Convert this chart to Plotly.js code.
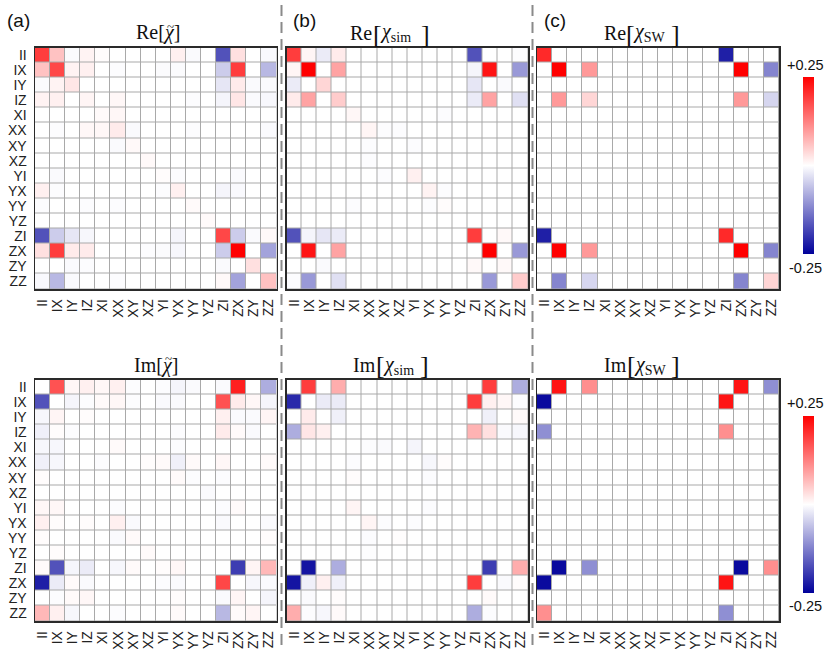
<!DOCTYPE html>
<html>
<head>
<meta charset="utf-8">
<script src="https://cdn.plot.ly/plotly-3.0.1.min.js"></script>
<style>html,body{margin:0;padding:0;background:#fff;}#chart{width:831px;height:649px;}</style>
</head>
<body>
<div id="chart"></div>
<script>
var labels = ["II","IX","IY","IZ","XI","XX","XY","XZ","YI","YX","YY","YZ","ZI","ZX","ZY","ZZ"];

var reExp = [
 [0.19,0.06,-0.004,0.012,0.003,0,0,0,0,0.015,-0.005,0,-0.17,0.03,0,-0.006],
 [0.06,0.18,0.012,0.015,0,-0.003,0,0,-0.004,-0.004,0,0,-0.05,0.19,0,-0.07],
 [-0.004,0.012,0.025,0,0,0,0,0,0,0,0,0,-0.025,0.02,-0.005,-0.005],
 [0.012,0.015,0,0.01,0,0.008,0,0,0,0,-0.003,0,-0.01,0.025,-0.005,-0.008],
 [0,0,0,0,0.005,0.008,0,0,0,0,0,0,0,0,0,0],
 [0,-0.003,0,0.008,0.008,0.02,-0.005,0,0,0,-0.003,0,0,0,0,-0.005],
 [0,0,0,0,0,-0.005,0.006,0,0,0,0,0,0,0,0,0],
 [0,0,0,0,0,0,0,0.006,0,0,0,0,0,0,0,0],
 [0,-0.005,0,0,0,0,0,0,0.003,-0.003,0,0,0,-0.005,0,0],
 [0.015,-0.003,0,0,0,0,0,0,-0.003,0.015,0,0,-0.01,-0.006,0,0],
 [-0.003,0,0,-0.003,0,-0.003,0,0,0,0,0.005,0,0,0,0,0],
 [0,0,0,0,0,0,0,0,0,0,0,0.005,0,0,0,0],
 [-0.17,-0.05,-0.025,-0.008,0,0,0,0,0,-0.01,0,0,0.18,-0.05,-0.005,0.006],
 [0.03,0.19,0.02,0.02,0,0,0,-0.003,-0.004,-0.008,0,0,-0.05,0.25,0,-0.09],
 [0,0,-0.005,-0.003,0,0,0,0,0,0,0,0,-0.005,0,0.03,0],
 [-0.006,-0.07,-0.005,0,0,-0.003,0,0,0,0,0,0,0.006,-0.09,0,0.06]
];

var reSim = [
 [0.19,0.01,-0.02,0.02,0,0,0,0,0,0,0,0,-0.17,0,0,-0.003],
 [0.01,0.25,0,0.09,0,0,0,0,0,0,0,0,-0.01,0.23,0,-0.1],
 [-0.02,0,0.04,0,0,0,0,0,0,0,0,0,-0.025,0,-0.005,0],
 [0.02,0.09,0,0.05,0,0,0,0,0,0,0,0,-0.02,0.09,0,-0.03],
 [0,0,0,0,0.008,0,0,0,0,0,-0.003,0,0,0,0,0],
 [0,0,0,0,0,0.01,-0.003,-0.003,0,0,0,0,0,0,0,0],
 [0,0,0,0,0,-0.003,0,0,-0.003,0,0,0,0,0,0,0],
 [0,0,0,0,0,-0.003,0,0,0,0,0,0,0,0,0,0],
 [0,0,0,0,0,0,-0.003,0,0.015,0,0,0,0,0,0,0],
 [0,0,0,0,0,0,0,0,0,0.012,-0.003,0,0,0,0,0],
 [0,0,0,0,-0.003,0,0,0,0,-0.003,0.003,0,0,0,0,0],
 [0,0,0,0,0,0,0,0,0,0,0,0,0,0,0,0],
 [-0.17,-0.01,-0.025,-0.02,0,0,0,0,0,0,0,0,0.19,0,0.006,0],
 [0,0.23,0,0.09,0,0,0,0,0,0,0,0,0,0.25,0,-0.1],
 [0,0,-0.005,0,0,0,0,0,0,0,0,0,0.006,0,0.006,0],
 [-0.003,-0.1,0,-0.03,0,0,0,0,0,0,0,0,0,-0.1,0,0.05]
];

var reSW = [
 [0.21,0,0,0,0,0,0,0,0,0,0,0,-0.22,0,0,0],
 [0,0.25,0,0.1,0,0,0,0,0,0,0,0,0,0.25,0,-0.12],
 [0,0,0,0,0,0,0,0,0,0,0,0,0,0,0,0],
 [0,0.1,0,0.04,0,0,0,0,0,0,0,0,0,0.1,0,-0.04],
 [0,0,0,0,0,0,0,0,0,0,0,0,0,0,0,0],
 [0,0,0,0,0,0,0,0,0,0,0,0,0,0,0,0],
 [0,0,0,0,0,0,0,0,0,0,0,0,0,0,0,0],
 [0,0,0,0,0,0,0,0,0,0,0,0,0,0,0,0],
 [0,0,0,0,0,0,0,0,0,0,0,0,0,0,0,0],
 [0,0,0,0,0,0,0,0,0,0,0,0,0,0,0,0],
 [0,0,0,0,0,0,0,0,0,0,0,0,0,0,0,0],
 [0,0,0,0,0,0,0,0,0,0,0,0,0,0,0,0],
 [-0.22,0,0,0,0,0,0,0,0,0,0,0,0.21,0,0,0],
 [0,0.25,0,0.1,0,0,0,0,0,0,0,0,0,0.25,0,-0.12],
 [0,0,0,0,0,0,0,0,0,0,0,0,0,0,0,0],
 [0,-0.12,0,-0.04,0,0,0,0,0,0,0,0,0,-0.12,0,0.04]
];

var imExp = [
 [0,0.17,0.008,0.015,0.008,0.015,-0.003,0,-0.003,-0.01,-0.005,0,-0.005,0.22,0,-0.08],
 [-0.17,0,-0.01,-0.003,0.005,0.008,-0.003,0,-0.005,-0.005,0,0,0.17,0.02,0.008,-0.01],
 [-0.008,0.01,0,0.003,0,0,0,0,0,0,0,0,0.015,-0.005,-0.005,0.01],
 [-0.015,0.003,-0.003,0,0,0,0,0,0,-0.003,0,0,0.02,0.005,-0.005,0],
 [-0.008,-0.008,0,0,0,0.005,0,0,0,-0.003,0,0,0,0,0,0],
 [-0.015,-0.008,0,0,-0.003,0,0,0.003,0.005,-0.015,0.005,0,0.008,0,0,0.005],
 [0.003,0,0,0,0,0,0,0,0,0.005,-0.003,0,-0.003,0,0,0],
 [0,0,0,0,0,0,0,0,0,0,0,-0.005,0,0,0,0],
 [0.008,0.008,0,0,0,-0.003,0,0,0,0,0,0,-0.003,0.005,0,0],
 [0.015,0.003,0,0.003,0,0.015,-0.005,0,0,0,0,0,-0.005,0,0,-0.005],
 [0.003,0,0,0,0,-0.005,0.005,0,0,0,0,0,0,0,0,0.003],
 [0,0.003,0,0,0,0,0,0.005,0,0,0,0,0,0,0,0],
 [0.005,-0.17,-0.01,-0.02,0,-0.008,0.005,0,0.003,0.008,0,0,0,-0.19,0.01,0.07],
 [-0.22,-0.02,0.005,-0.005,0,0,0,0,-0.003,-0.005,0,0,0.18,0,-0.008,-0.005],
 [0,-0.003,0.005,0.008,0,0,0,0,0,0.003,0,0,-0.005,0.01,0,-0.01],
 [0.07,0.015,-0.008,0,0,-0.003,0,0,0,0.005,0,0,-0.07,0.005,0.01,0]
];

var imSim = [
 [0,0.19,0,0.08,0,0,0,0,0,0,0,0,0,0.19,0,-0.08],
 [-0.21,0,-0.02,-0.02,0,0,0,0,0,0,0,0,0.19,0.015,0.008,-0.003],
 [0,0.02,0,-0.015,0,0,0,0,0,0,0,0,0,-0.015,0,0.005],
 [-0.08,0.025,0.015,0,0,0,0,0,0,0,0,0,0.075,0.03,-0.005,-0.008],
 [0,0,0,0,0,-0.003,-0.005,0,-0.01,0,0,0,0,0,0,0],
 [0,0,0,0,-0.003,0,0,0,0,-0.008,0.003,0,0,0,0,0],
 [0,0,0,0,0.003,0,0,0,0,-0.003,0,0,0,0,0,0],
 [0,0,0,0,0,0,0,0,0,0,0,0,0,0,0,0],
 [0,0,0,0,0.01,0,0,0,0,-0.003,0,0,0,0,0,0],
 [0,0,0,0,0,0.01,-0.003,0,-0.003,0,0,0,0,0,0,0],
 [0,0,0,0,0,-0.003,0,0.002,0,0,0,0,0,0,0,0],
 [0,0,0,0,0,-0.002,0,0,0,0,0,0,0,0,0,0],
 [0,-0.23,0,-0.08,0,0,0,0,0,0,0,0,0,-0.19,0,0.08],
 [-0.23,-0.015,0.015,-0.015,0,0,0,0,0,0,0,0,0.19,0,-0.005,0.003],
 [0,-0.005,0,0.003,0,0,0,0,0,0,0,0,0,0.005,0,0],
 [0.08,-0.003,-0.008,0.005,0,0,0,0,0,0,0,0,-0.08,-0.003,0,0]
];

var imSW = [
 [0,0.23,0,0.11,0,0,0,0,0,0,0,0,0,0.23,0,-0.11],
 [-0.24,0,0,0,0,0,0,0,0,0,0,0,0.23,0,0,0],
 [0,0,0,0,0,0,0,0,0,0,0,0,0,0,0,0],
 [-0.11,0,0,0,0,0,0,0,0,0,0,0,0.11,0,0,0],
 [0,0,0,0,0,0,0,0,0,0,0,0,0,0,0,0],
 [0,0,0,0,0,0,0,0,0,0,0,0,0,0,0,0],
 [0,0,0,0,0,0,0,0,0,0,0,0,0,0,0,0],
 [0,0,0,0,0,0,0,0,0,0,0,0,0,0,0,0],
 [0,0,0,0,0,0,0,0,0,0,0,0,0,0,0,0],
 [0,0,0,0,0,0,0,0,0,0,0,0,0,0,0,0],
 [0,0,0,0,0,0,0,0,0,0,0,0,0,0,0,0],
 [0,0,0,0,0,0,0,0,0,0,0,0,0,0,0,0],
 [0,-0.24,0,-0.11,0,0,0,0,0,0,0,0,0,-0.24,0,0.11],
 [-0.24,0,0,0,0,0,0,0,0,0,0,0,0.23,0,0,0],
 [0,0,0,0,0,0,0,0,0,0,0,0,0,0,0,0],
 [0.11,0,0,0,0,0,0,0,0,0,0,0,-0.11,0,0,0]
];

var partPrefix = ["Re","Re","Re","Im","Im","Im"];
var partSub = ["", "sim", "SW", "", "sim", "SW"];
var panelLetters = ["(a)","(b)","(c)"];
var cbLabels = ["+0.25","-0.25"];

var W = 831, H = 649;
var mats = [reExp, reSim, reSW, imExp, imSim, imSW];
var xPx = [[35,276.5],[286.5,528],[537,779]];
var yPx = [[47.5,289],[379.5,621]];

var scale = [[0,'#00009a'],[0.5,'#ffffff'],[1,'#ff0000']];
var tickFont = {family:'Liberation Sans, Arial, sans-serif', size:14, color:'#222'};
var serif = 'Liberation Serif, Times New Roman, serif';

var data = [], layout = {
  width:W, height:H, margin:{l:0,r:0,t:0,b:0},
  paper_bgcolor:'#ffffff', plot_bgcolor:'#a9a9a9',
  showlegend:false, annotations:[], shapes:[],
  coloraxis:{cmin:-0.25,cmax:0.25,colorscale:scale,
    colorbar:{x:803/W,xanchor:'left',xpad:0,ypad:0,thickness:11,thicknessmode:'pixels',len:177/H,lenmode:'fraction',
      y:1-165.5/H,yanchor:'middle',showticklabels:false,ticks:'',outlinewidth:0}},
  coloraxis2:{cmin:-0.25,cmax:0.25,colorscale:scale,
    colorbar:{x:803/W,xanchor:'left',xpad:0,ypad:0,thickness:11,thicknessmode:'pixels',len:177/H,lenmode:'fraction',
      y:1-504.5/H,yanchor:'middle',showticklabels:false,ticks:'',outlinewidth:0}}
};

function ann(text, xp, yp, xanchor, size, fam){
  layout.annotations.push({text:text, xref:'paper', yref:'paper', x:xp/W, y:1-yp/H,
    xanchor:xanchor, yanchor:'middle', showarrow:false, borderpad:0, borderwidth:0,
    font:{family:fam||serif, size:size, color:'#111'}});
}

var titleY = [33, 365];
var tildeTitleCenter = [157.5, 155.5];
var preRight = [[0,372,626],[0,376,627]];
var bracketL = [[0,377,630],[0,380,631]];
var chiLeft = [[0,380,633],[0,383,634]];
var bracketR = [[0,426,675],[0,424,675]];

for (var k=0;k<6;k++){
  var r = Math.floor(k/3), c = k%3, n = k+1;
  var xa = 'x'+(n===1?'':n), ya = 'y'+(n===1?'':n);
  data.push({type:'heatmap', z:mats[k], x:labels, y:labels, xaxis:xa, yaxis:ya,
    coloraxis: r===0?'coloraxis':'coloraxis2', xgap:1, ygap:1, hoverinfo:'skip'});
  layout['xaxis'+(n===1?'':n)] = {domain:[xPx[c][0]/W, xPx[c][1]/W], anchor:ya,
    type:'category', categoryorder:'array', categoryarray:labels, tickmode:'linear', tick0:0, dtick:1,
    tickangle:-90, tickfont:tickFont, ticks:'', showgrid:false, zeroline:false, showline:true, mirror:true,
    linecolor:'#2a2a2a', linewidth:1.5, fixedrange:true, ticklabelstandoff:3};
  layout['yaxis'+(n===1?'':n)] = {domain:[1-yPx[r][1]/H, 1-yPx[r][0]/H], anchor:xa,
    type:'category', categoryorder:'array', categoryarray:labels, tickmode:'linear', tick0:0, dtick:1,
    autorange:'reversed', showticklabels: c===0, tickfont:tickFont, ticks:'', showgrid:false, zeroline:false,
    showline:true, mirror:true, linecolor:'#2a2a2a', linewidth:1.5, fixedrange:true, ticklabelstandoff:4};

  if (c===0){
    ann(partPrefix[k]+"[<i>χ</i>]", tildeTitleCenter[r], titleY[r], 'center', 20);
    ann("~", tildeTitleCenter[r]+12.5, titleY[r]-7, 'center', 13);
  } else {
    ann(partPrefix[k], preRight[r][c], titleY[r], 'right', 20);
    ann("[", bracketL[r][c], titleY[r]+1, 'center', 26);
    ann("<i>χ</i><sub>"+partSub[k]+"</sub>", chiLeft[r][c], titleY[r], 'left', 20);
    ann("]", bracketR[r][c], titleY[r]+1, 'center', 26);
  }
}
var letterX = [18,304,555];
for (var i=0;i<3;i++){
  ann(panelLetters[i], letterX[i], 21, 'center', 19, 'Liberation Sans, Arial, sans-serif');
}
var cbY = [[65,268],[403,606]];
for (var j=0;j<2;j++){
  for (var q=0;q<2;q++){
    ann(cbLabels[q], 805, cbY[j][q], 'center', 14.5, 'Liberation Sans, Arial, sans-serif');
  }
}
[281.5, 532.5].forEach(function(xp){
  layout.shapes.push({type:'line', xref:'paper', yref:'paper', x0:xp/W, x1:xp/W, y0:4/H, y1:1-4/H,
    line:{color:'#8a8a8a', width:2, dash:'11px,6px'}});
});

Plotly.newPlot('chart', data, layout, {staticPlot:true, displayModeBar:false});
</script>
</body>
</html>
